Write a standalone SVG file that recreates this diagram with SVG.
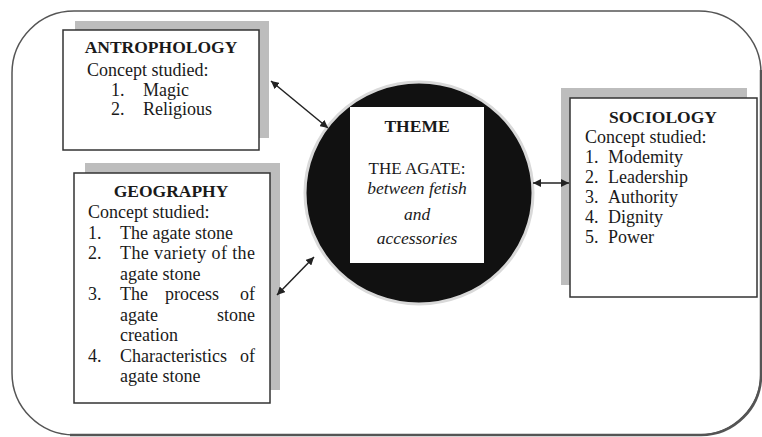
<svg xmlns="http://www.w3.org/2000/svg" width="762" height="437" viewBox="0 0 762 437">
<style>
  text { font-family: "Liberation Serif", "Times New Roman", serif; fill: #1a1a1a; }
  .t { font-size: 18px; }
  .h { font-size: 17.5px; font-weight: bold; text-anchor: middle; }
  .it { font-size: 17.5px; font-style: italic; text-anchor: middle; }
  .m { font-size: 17px; text-anchor: middle; }
  .box { fill: #fff; stroke: #333; stroke-width: 1.5; }
  .shadow { fill: #bdbdbd; }
  .conn { stroke: #222; stroke-width: 1.5; fill: none; marker-start: url(#ah); marker-end: url(#ah); }
</style>
<defs>
  <marker id="ah" viewBox="0 0 10 10" refX="10" refY="5" markerWidth="8" markerHeight="8" orient="auto-start-reverse" markerUnits="userSpaceOnUse">
    <path d="M0,0 L10,5 L0,10 Z" fill="#222"/>
  </marker>
</defs>
<rect width="762" height="437" fill="#fff"/>
<g id="frame">
  <path d="M761,70 L761,375 A60,60 0 0 1 701,435 L70,435" fill="none" stroke="#555" stroke-width="2.5"/>
  <rect x="12" y="11" width="749" height="424" rx="62" ry="62" fill="none" stroke="#555" stroke-width="1.5"/>
</g>
<g id="theme">
  <ellipse cx="419" cy="193" rx="114" ry="111" fill="#111" stroke="#d9d9d9" stroke-width="3"/>
  <rect x="350" y="107" width="134" height="156" fill="#fff"/>
  <text class="h" x="417" y="132">THEME</text>
  <text class="m" x="417" y="174">THE AGATE:</text>
  <text class="it" x="417" y="194">between fetish</text>
  <text class="it" x="417" y="220">and</text>
  <text class="it" x="417" y="244">accessories</text>
</g>
<g id="antropology">
  <rect class="shadow" x="75" y="21" width="194" height="117"/>
  <rect class="box" x="63" y="30" width="196" height="120"/>
  <text class="h" x="161" y="53">ANTROPHOLOGY</text>
  <text class="t" x="87" y="76">Concept studied:</text>
  <text class="t" x="111" y="96">1.</text><text class="t" x="143" y="96">Magic</text>
  <text class="t" x="111" y="115">2.</text><text class="t" x="143" y="115">Religious</text>
</g>
<g id="geography">
  <rect class="shadow" x="85" y="163" width="195" height="227"/>
  <rect class="box" x="74" y="173" width="196" height="230"/>
  <text class="h" x="171" y="197">GEOGRAPHY</text>
  <text class="t" x="88" y="218">Concept studied:</text>
  <text class="t" x="88" y="239">1.</text><text class="t" x="120" y="239">The agate stone</text>
  <text class="t" x="88" y="259">2.</text><text class="t" x="120" y="259" textLength="135" lengthAdjust="spacing">The variety of the</text>
  <text class="t" x="120" y="280">agate stone</text>
  <text class="t" x="88" y="300">3.</text><text class="t" x="120" y="300">The</text><text class="t" x="165" y="300">process</text><text class="t" x="255" y="300" text-anchor="end">of</text>
  <text class="t" x="120" y="321">agate</text><text class="t" x="255" y="321" text-anchor="end">stone</text>
  <text class="t" x="120" y="341">creation</text>
  <text class="t" x="88" y="362">4.</text><text class="t" x="120" y="362">Characteristics</text><text class="t" x="255" y="362" text-anchor="end">of</text>
  <text class="t" x="120" y="382">agate stone</text>
</g>
<g id="sociology">
  <rect class="shadow" x="561" y="88" width="186" height="197"/>
  <rect class="box" x="570" y="98" width="187" height="199"/>
  <text class="h" x="663" y="123">SOCIOLOGY</text>
  <text class="t" x="585" y="143">Concept studied:</text>
  <text class="t" x="585" y="163">1.</text><text class="t" x="608" y="163">Modemity</text>
  <text class="t" x="585" y="183">2.</text><text class="t" x="608" y="183">Leadership</text>
  <text class="t" x="585" y="203">3.</text><text class="t" x="608" y="203">Authority</text>
  <text class="t" x="585" y="223">4.</text><text class="t" x="608" y="223">Dignity</text>
  <text class="t" x="585" y="243">5.</text><text class="t" x="608" y="243">Power</text>
</g>
<g id="connectors">
  <line class="conn" x1="271" y1="81" x2="328" y2="128"/>
  <line class="conn" x1="277" y1="295" x2="314" y2="257"/>
  <line class="conn" x1="533" y1="183" x2="569" y2="183"/>
</g>
</svg>
